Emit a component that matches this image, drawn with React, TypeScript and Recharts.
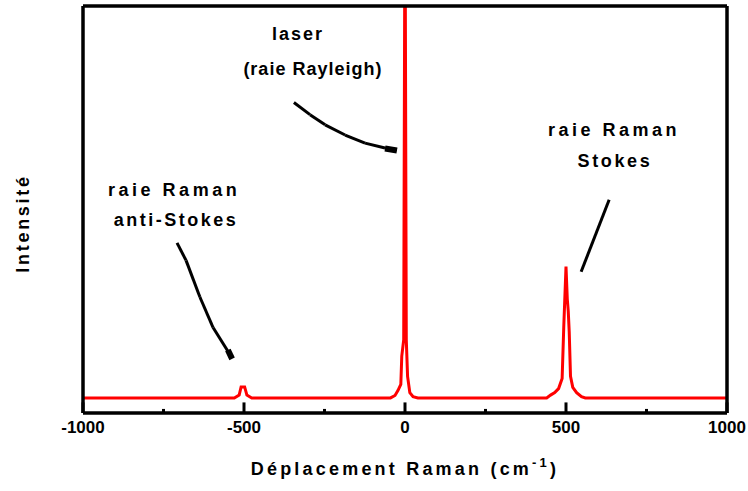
import React from "react";
import { ComposedChart, Line, XAxis, YAxis, ReferenceLine, ReferenceDot } from "recharts";

// Raman shift (cm^-1) and intensity (arbitrary units, 0-100 visible)
const baseline: [number, number][] = [
  [-1000, 3.7],
  [1000, 3.7],
];
const antiStokesPeak: [number, number][] = [
  [-530, 3.7], [-515, 4.4], [-509, 6.4], [-498, 6.4], [-491, 4.4], [-476, 3.7],
];
const rayleighPeak: [number, number][] = [
  [-45, 3.7], [-31, 4.3], [-22, 5.5], [-13, 7], [-10, 14], [-4, 18], [0, 130],
  [4, 18], [8, 9], [15, 5], [25, 4], [40, 3.7],
];
const stokesPeak: [number, number][] = [
  [440, 3.7], [452, 4.4], [465, 5.0], [477, 6.0], [488, 8.5], [493, 21], [500, 36],
  [504, 28], [507, 25], [510, 20], [514, 9], [521, 6.3], [533, 5.0], [548, 4.0], [560, 3.7],
];

const majorTicks = [-1000, -500, 0, 500, 1000];
const minorTicks = [-750, -250, 250, 750];

const annotationTexts = ["laser", "(raie Rayleigh)", "raie Raman", "Stokes", "raie Raman", "anti-Stokes"];
const annotationX = [-332, -286, 649, 652, -717, -711];
const annotationY = [93, 84.4, 69.6, 62, 54.9, 47.5];
const annotationSpacing = [2, 1, 3.5, 2.6, 3.5, 2.5];

const rayleighArrow: [number, number][] = [
  [-345, 76.3], [-295, 73.3], [-248, 70.8], [-186, 68.3], [-124, 66.3], [-62, 65.1], [-25, 64.7],
];
const antiStokesArrow: [number, number][] = [
  [-708, 41.8], [-680, 37.5], [-637, 28.5], [-596, 21], [-537, 13.5],
];
const stokesArrow: [number, number][] = [
  [634, 52.4], [547, 34.7],
];
const arrowHeads: [number, number, number, number][] = [
  [-62, 65.0, -25, 64.5],
  [-550, 15.5, -537, 13.3],
];

const data = [...baseline, ...antiStokesPeak, ...rayleighPeak, ...stokesPeak]
  .sort((a, b) => a[0] - b[0])
  .map(([u, v]) => ({ u, v }));

const FONT = "'Liberation Sans', Arial, sans-serif";

const Tick = (props: any) => {
  const { x, y, payload } = props;
  const major = majorTicks.includes(payload.value);
  if (!major) return <g />;
  return (
    <text x={x} y={y + 14} textAnchor="middle" dominantBaseline="central" fontFamily={FONT}
      fontWeight="bold" fontSize={17} fill="#000">
      {payload.value}
    </text>
  );
};

const segs = (pts: [number, number][]) =>
  pts.slice(1).map((p, i) => [pts[i], p] as [[number, number], [number, number]]);

export default function App() {
  return (
    <div style={{ position: "absolute", left: 0, top: 0, width: 748, height: 491, background: "#fff" }}>
      <ComposedChart width={748} height={491} data={data}
        margin={{ top: 5, right: 20, bottom: 18, left: 0 }}>
        <XAxis dataKey="u" type="number" domain={[-1000, 1000]} ticks={[...majorTicks, ...minorTicks]}
          interval={0} height={60} tickSize={0} tickMargin={0} tickLine={false}
          axisLine={{ stroke: "#000", strokeWidth: 3.5 }} tick={<Tick />}
          label={(p: any) => {
            const vb = p.viewBox;
            return (
              <text x={vb.x + vb.width / 2} y={vb.y + 56} textAnchor="middle" dominantBaseline="central"
                fontFamily={FONT} fontWeight="bold" fontSize={18} fill="#000" letterSpacing={3.2}>
                Déplacement Raman (cm
                <tspan dy={-7} fontSize={13}>-1</tspan>
                <tspan dy={7}>)</tspan>
              </text>
            );
          }} />
        <XAxis xAxisId="top" orientation="top" type="number" domain={[-1000, 1000]} height={1}
          tick={false} tickLine={false} axisLine={{ stroke: "#000", strokeWidth: 3.5 }} />
        <YAxis type="number" domain={[0, 100]} allowDataOverflow width={83} tick={false} tickLine={false}
          axisLine={{ stroke: "#000", strokeWidth: 3.5 }}
          label={(p: any) => {
            const vb = p.viewBox;
            const cx = 23;
            const cy = vb.y + vb.height / 2 + 14;
            return (
              <text x={cx} y={cy} transform={`rotate(-90 ${cx} ${cy})`} textAnchor="middle"
                dominantBaseline="central" fontFamily={FONT} fontWeight="bold" fontSize={18} fill="#000"
                letterSpacing={2.7}>
                Intensité
              </text>
            );
          }} />
        <YAxis yAxisId="right" orientation="right" type="number" domain={[0, 100]} width={1}
          tick={false} tickLine={false} axisLine={{ stroke: "#000", strokeWidth: 3.5 }} />
        {majorTicks.map((t) => (
          <ReferenceLine key={"M" + t} segment={[{ x: t, y: 0 }, { x: t, y: 2.6 }]}
            stroke="#000" strokeWidth={3} ifOverflow="visible" />
        ))}
        {minorTicks.map((t) => (
          <ReferenceLine key={"m" + t} segment={[{ x: t, y: 0 }, { x: t, y: 1 }]}
            stroke="#000" strokeWidth={3} ifOverflow="visible" />
        ))}
        <Line dataKey="v" type="linear" stroke="#ff0000" strokeWidth={3} dot={false}
          isAnimationActive={false} />
        {[...segs(rayleighArrow), ...segs(antiStokesArrow), ...segs(stokesArrow)].map((s, i) => (
          <ReferenceLine key={"a" + i} segment={[{ x: s[0][0], y: s[0][1] }, { x: s[1][0], y: s[1][1] }]}
            stroke="#000" strokeWidth={3} ifOverflow="visible" />
        ))}
        {arrowHeads.map((h, i) => (
          <ReferenceLine key={"h" + i} segment={[{ x: h[0], y: h[1] }, { x: h[2], y: h[3] }]}
            stroke="#000" strokeWidth={6} ifOverflow="visible" />
        ))}
        {annotationTexts.map((txt, i) => (
          <ReferenceDot key={"t" + i} x={annotationX[i]} y={annotationY[i]} r={0} ifOverflow="visible"
            shape={(p: any) => (
              <text x={p.cx} y={p.cy} textAnchor="middle" dominantBaseline="central" fontFamily={FONT}
                fontWeight="bold" fontSize={18} fill="#000" letterSpacing={annotationSpacing[i]}>
                {txt}
              </text>
            )} />
        ))}
      </ComposedChart>
    </div>
  );
}
